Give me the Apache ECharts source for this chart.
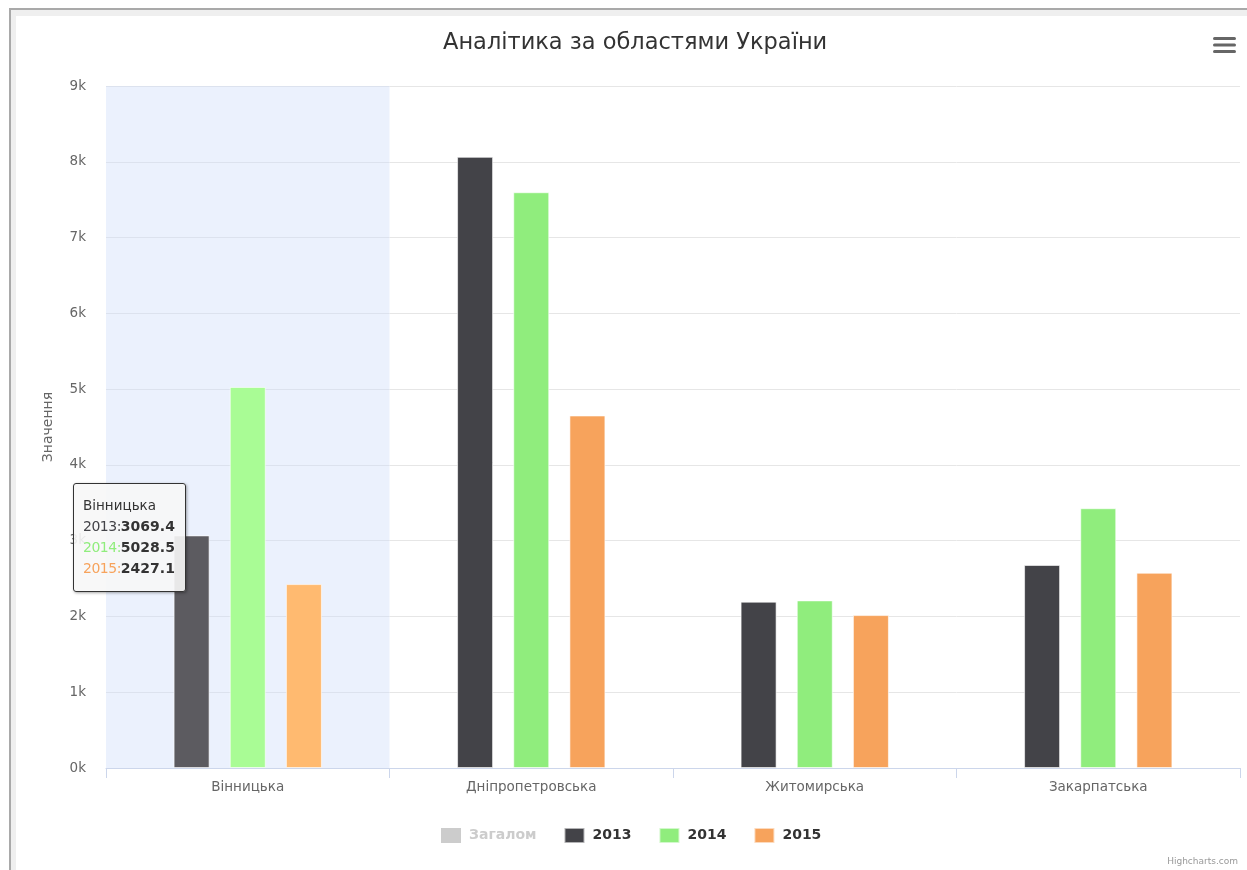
<!DOCTYPE html>
<html>
<head>
<meta charset="utf-8">
<script src="https://cdn.jsdelivr.net/npm/echarts@6/dist/echarts.min.js"></script>
<style>
  html, body { margin: 0; padding: 0; width: 1247px; height: 870px; overflow: hidden; background: #fff; }
  #frame { position: absolute; left: 9px; top: 8px; right: -20px; bottom: -20px;
           border-left: 2px solid #a9a9a9; border-top: 2px solid #a9a9a9; background: #efefef; }
  #paper { position: absolute; left: 16px; top: 16px; right: -10px; bottom: -10px; background: #fff; }
  #chart { position: absolute; left: 0; top: 0; width: 1247px; height: 870px; }
</style>
</head>
<body>
<div id="frame"></div>
<div id="paper"></div>
<div id="chart"></div>
<script>
// Regions (categories)
const regions = ['Вінницька', 'Дніпропетровська', 'Житомирська', 'Закарпатська'];
// Yearly values per region
const values2013 = [3069.4, 8065.0, 2195.0, 2679.0];
const values2014 = [5028.5, 7598.0, 2212.0, 3428.0];
const values2015 = [2427.1, 4652.0, 2018.0, 2577.0];
// Value axis ticks
const yTicks = [0, 1000, 2000, 3000, 4000, 5000, 6000, 7000, 8000, 9000];

const FONT = '"DejaVu Sans", Verdana, sans-serif';
const CSS_FONT = "'DejaVu Sans', Verdana, sans-serif";
const seriesDefs = [
  { name: '2013', data: values2013, color: '#434348', hover: '#5c5b60' },
  { name: '2014', data: values2014, color: '#90ed7d', hover: '#a9fc95' },
  { name: '2015', data: values2015, color: '#f7a35c', hover: '#ffba70' }
];

const chart = echarts.init(document.getElementById('chart'), null, { renderer: 'canvas' });

const barSeries = seriesDefs.map(s => ({
  name: s.name,
  type: 'bar',
  z: 3,
  data: s.data,
  barWidth: 36,
  barGap: '56%',
  itemStyle: { color: s.color, borderColor: 'rgba(255,255,255,0.6)', borderWidth: 1 },
  emphasis: { focus: 'none', itemStyle: { color: s.hover, borderColor: 'rgba(255,255,255,0.6)', borderWidth: 1 } }
}));

const option = {
  animation: false,
  textStyle: { fontFamily: FONT },
  color: ['#c8c8c8', '#434348', '#90ed7d', '#f7a35c'],
  title: {
    text: 'Аналітика за областями України',
    left: 438,
    top: 27,
    textStyle: { fontFamily: FONT, fontSize: 22.5, fontWeight: 'normal', color: '#333333' }
  },
  legend: {
    left: 441,
    top: 827,
    padding: 0,
    itemWidth: 20,
    itemHeight: 15,
    itemGap: 27,
    icon: 'rect',
    inactiveColor: '#cccccc',
    selected: { 'Загалом': false },
    data: ['Загалом', '2013', '2014', '2015'],
    textStyle: { fontFamily: FONT, fontSize: 14, fontWeight: 'bold', color: '#333333', padding: [0, 0, 0, 3] }
  },
  grid: { left: 106, right: 7, top: 86, bottom: 102, containLabel: false },
  tooltip: {
    trigger: 'axis',
    alwaysShowContent: true,
    transitionDuration: 0,
    showDelay: 0,
    axisPointer: { type: 'shadow', z: 1, shadowStyle: { color: 'rgba(204, 220, 250, 0.4)' } },
    backgroundColor: 'rgba(247,247,247,0.9)',
    borderColor: '#333333',
    borderWidth: 1,
    padding: [11, 10, 12, 9],
    extraCssText: 'border-radius:3px;box-shadow:1px 1px 3px rgba(0,0,0,0.35);width:92px;',
    position: function () { return [73, 483]; },
    formatter: function (params) {
      let html = '<div style="font-family:' + CSS_FONT + ';font-size:13.5px;color:#333;line-height:21px;">' + params[0].name + '</div>';
      params.forEach(p => {
        const def = seriesDefs.find(s => s.name === p.seriesName);
        html += '<div style="font-family:' + CSS_FONT + ';font-size:14px;line-height:21px;white-space:nowrap;">' +
          '<span style="color:' + def.color + ';letter-spacing:-0.5px;">' + p.seriesName + ':</span>' +
          '<b style="color:#333;">' + p.value + '</b></div>';
      });
      return html;
    }
  },
  xAxis: {
    type: 'category',
    data: regions,
    axisLine: { lineStyle: { color: '#ccd6eb', width: 1 } },
    axisTick: { show: true, length: 10, lineStyle: { color: '#ccd6eb' } },
    axisLabel: { fontFamily: FONT, fontSize: 13.5, color: '#666666', margin: 12 },
    splitLine: { show: false }
  },
  yAxis: {
    type: 'value',
    min: yTicks[0],
    max: yTicks[yTicks.length - 1],
    interval: yTicks[1] - yTicks[0],
    name: 'Значення',
    nameLocation: 'middle',
    nameRotate: 90,
    nameGap: 51,
    nameTextStyle: { fontFamily: FONT, fontSize: 14, color: '#666666' },
    axisLine: { show: false },
    axisTick: { show: false },
    axisLabel: {
      fontFamily: FONT, fontSize: 13.5, color: '#666666', margin: 20,
      formatter: v => (v / 1000) + 'k'
    },
    splitLine: { lineStyle: { color: '#e6e6e6', width: 1 } }
  },
  series: [{ name: 'Загалом', type: 'bar', data: [] }].concat(barSeries),
  graphic: [
    // export menu icon
    { type: 'rect', left: 1213, top: 37, shape: { width: 23, height: 3, r: 1.5 }, style: { fill: '#666666' } },
    { type: 'rect', left: 1213, top: 43.5, shape: { width: 23, height: 3, r: 1.5 }, style: { fill: '#666666' } },
    { type: 'rect', left: 1213, top: 50, shape: { width: 23, height: 3, r: 1.5 }, style: { fill: '#666666' } },
    // credits
    { type: 'text', right: 9, top: 857, style: { text: 'Highcharts.com', font: '9px ' + FONT, fill: '#999999' } }
  ]
};

chart.setOption(option);
chart.dispatchAction({ type: 'showTip', seriesIndex: 1, dataIndex: 0 });
</script>
</body>
</html>
